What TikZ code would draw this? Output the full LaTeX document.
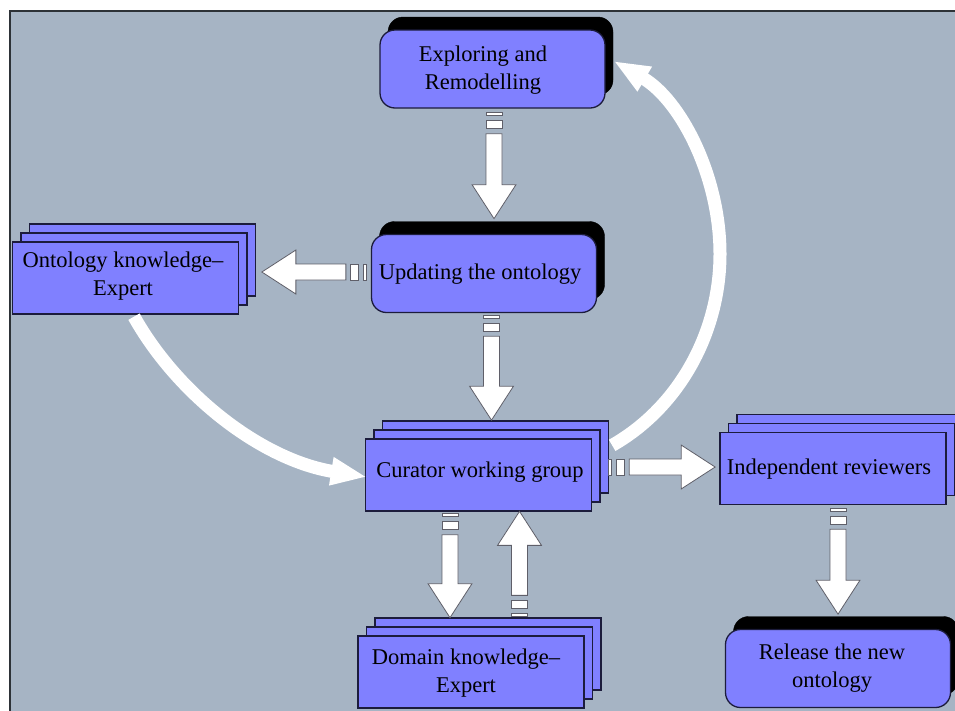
\documentclass[tikz,border=0pt]{standalone}
\usepackage{fontspec}
\setmainfont{Liberation Serif}
\usetikzlibrary{calc,arrows.meta}
\definecolor{bgc}{RGB}{166,180,196}
\definecolor{boxc}{RGB}{128,128,255}
\definecolor{edgec}{RGB}{28,28,60}
\definecolor{arrowedge}{RGB}{95,95,105}
\definecolor{framec}{RGB}{45,50,55}
\begin{document}
\begin{tikzpicture}[x=1pt,y=-1pt,
  stackbox/.style={draw=edgec, fill=boxc, line width=1.3pt, minimum width=226pt, minimum height=72pt, inner sep=0pt},
  roundbox/.style={draw=edgec, fill=boxc, line width=1.3pt, rounded corners=15pt, minimum width=225pt, minimum height=78pt, inner sep=0pt},
  shadowbox/.style={fill=black, draw=black, rounded corners=15pt, minimum width=225pt, minimum height=78pt, inner sep=0pt},
  txt/.style={font=\fontsize{22.5}{28}\selectfont, text=black, align=center, inner sep=0pt},
  barrowpart/.style={draw=arrowedge, fill=white, line width=0.8pt, line join=miter},
  curvearrow/.style={draw=white, line width=13pt, -{Triangle[length=36pt,width=26pt]}},
  pics/barrow/.style={code={
    \path[barrowpart] (0,-8) rectangle (3,8);
    \path[barrowpart] (8,-8) rectangle (16,8);
    \path[barrowpart] (21,-8) -- ({#1-34},-8) -- ({#1-34},-22) -- (#1,0) -- ({#1-34},22) -- ({#1-34},8) -- (21,8) -- cycle;
  }}
]
\useasboundingbox (0,0) rectangle (955,710);
\clip (0,0) rectangle (955,710);
\fill[bgc] (10,11) rectangle (960,715);
\draw[framec, line width=1.8pt] (10,715) -- (10,11) -- (960,11);

% rounded boxes with shadows
\node[shadowbox] (expS) at (500.5,56) {};
\node[roundbox] (exp) at (492.5,69) {};
\node[shadowbox] (updS) at (492,260.5) {};
\node[roundbox] (upd) at (484,273.5) {};
\node[shadowbox] (relS) at (846,655.5) {};
\node[roundbox] (rel) at (838,668.5) {};

% stacked boxes
\node[stackbox] (ont3) at (142.5,260) {};
\node[stackbox] (ont2) at (134,269) {};
\node[stackbox] (ont) at (125.5,278) {};
\node[stackbox] (cur3) at (495.5,457) {};
\node[stackbox] (cur2) at (487,466) {};
\node[stackbox] (cur) at (478.5,475) {};
\node[stackbox] (ind3) at (850,450.5) {};
\node[stackbox] (ind2) at (841.5,459.5) {};
\node[stackbox] (ind) at (833,468.5) {};
\node[stackbox] (dom3) at (488,654) {};
\node[stackbox] (dom2) at (479.5,663) {};
\node[stackbox] (dom) at (471,672) {};

% texts
\node[txt] (expT) at (483,70.5) {Exploring and\\Remodelling};
\node[txt] (updT) at (480,274) {Updating the ontology};
\node[txt] (ontT) at (123,275.75) {Ontology knowledge–\\Expert};
\node[txt] (curT) at (480,471.7) {Curator working group};
\node[txt] (indT) at (829,468.7) {Independent reviewers};
\node[txt] (domT) at (466,672.75) {Domain knowledge–\\Expert};
\node[txt] (relT) at (832,667.75) {Release the new\\ontology};

% curved arrows
\draw[curvearrow] ($(cur.north east)+(20,7)$) .. controls (679.5,407) and (720,332) .. (720,254)
   .. controls (720,176) and (680.5,100) .. ($(exp.east)+(8,-8)$);
\draw[curvearrow] ($(ont.south)+(8.5,2)$) .. controls (178,395) and (262,460) .. ($(cur.west)+(2,2)$);

% block arrows
\pic[rotate=-90] at ($(exp.south)+(1.5,4)$) {barrow=106};
\pic[rotate=-90] at ($(upd.south)+(7.5,2)$) {barrow=105};
\pic[rotate=180] at ($(upd.west)+(-4,-1.5)$) {barrow=105};
\pic at ($(cur.east)+(16,-8)$) {barrow=107};
\pic[rotate=-90] at ($(cur.south)+(-28.5,2)$) {barrow=104};
\pic[rotate=90] at ($(dom.north)+(48.5,-19)$) {barrow=105};
\pic[rotate=-90] at ($(ind.south)+(5,3)$) {barrow=106};
\end{tikzpicture}
\end{document}
